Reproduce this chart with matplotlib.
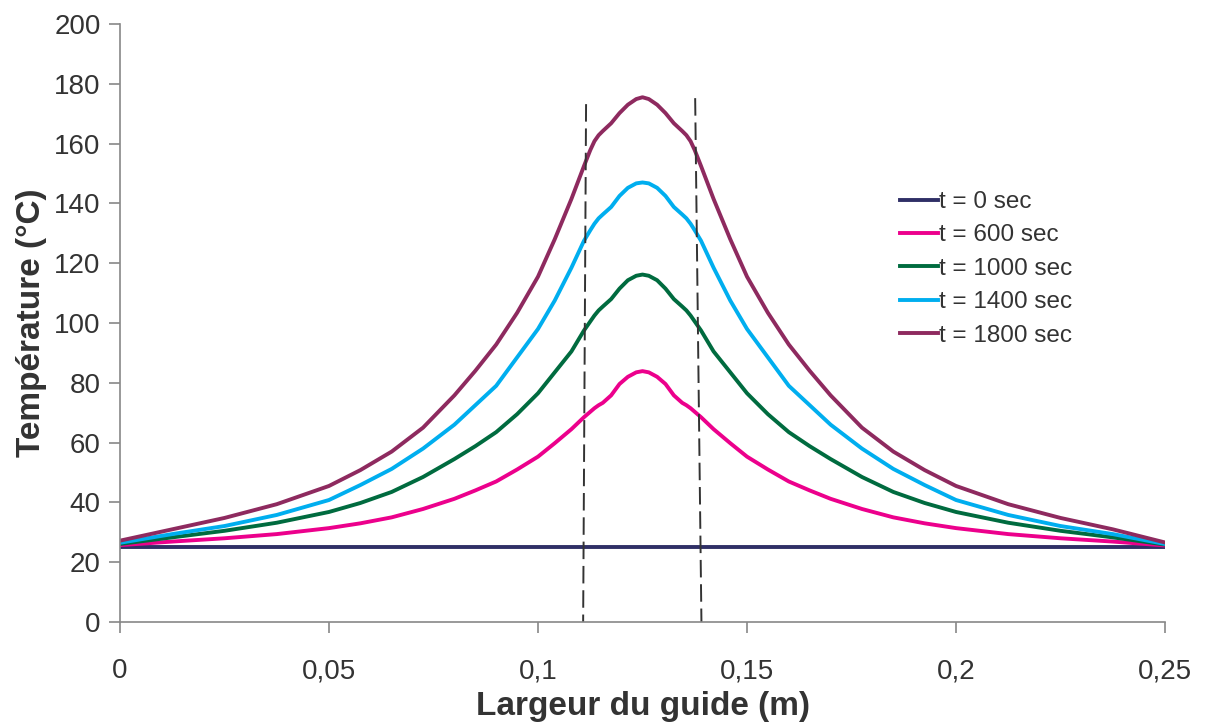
import matplotlib
matplotlib.use("Agg")
import matplotlib.pyplot as plt
from matplotlib.lines import Line2D

# x positions across the guide (m)
largeur = [0, 0.0125, 0.025, 0.0375, 0.05, 0.0575, 0.065, 0.0725, 0.08, 0.085,
           0.09, 0.095, 0.1, 0.104, 0.108, 0.111, 0.1125, 0.1135, 0.1145, 0.1155,
           0.1175, 0.1195, 0.1215, 0.1235, 0.125,
           0.1265, 0.1285, 0.1305, 0.1325, 0.1345, 0.1355, 0.1365, 0.1375, 0.139,
           0.142, 0.146, 0.15, 0.155, 0.16, 0.165, 0.17, 0.1775, 0.185, 0.1925,
           0.2, 0.2125, 0.225, 0.2375, 0.25]

t_0 = [25.2] * len(largeur)
t_600 = [25.7, 26.9, 28.0, 29.4, 31.4, 33.0, 35.0, 37.8, 41.2, 44.0,
         47.0, 51.0, 55.3, 59.8, 64.5, 68.5, 70.3, 71.5, 72.5, 73.3,
         75.8, 79.6, 82.0, 83.5, 83.9,
         83.5, 82.0, 79.6, 75.8, 73.3, 72.5, 71.5, 70.3, 68.5,
         64.5, 59.8, 55.3, 51.0, 47.0, 44.0, 41.2, 37.8, 35.0, 33.0,
         31.4, 29.4, 28.0, 26.9, 25.6]
t_1000 = [26.1, 28.3, 30.5, 33.2, 36.8, 39.8, 43.5, 48.5, 54.5, 58.8,
          63.5, 69.5, 76.5, 83.5, 90.5, 97.5, 100.5, 102.5, 104.2, 105.5,
          108.0, 111.5, 114.3, 115.8, 116.2,
          115.8, 114.3, 111.5, 108.0, 105.5, 104.2, 102.5, 100.5, 97.5,
          90.5, 83.5, 76.5, 69.5, 63.5, 58.8, 54.5, 48.5, 43.5, 39.8,
          36.8, 33.2, 30.5, 28.3, 25.9]
t_1400 = [26.5, 29.4, 32.1, 35.8, 40.8, 45.8, 51.2, 58.0, 66.0, 72.5,
          79.0, 88.5, 98.0, 107.5, 118.5, 127.5, 131.0, 133.2, 135.0, 136.3,
          138.8, 142.5, 145.2, 146.7, 147.0,
          146.7, 145.2, 142.5, 138.8, 136.3, 135.0, 133.2, 131.0, 127.5,
          118.5, 107.5, 98.0, 88.5, 79.0, 72.5, 66.0, 58.0, 51.2, 45.8,
          40.8, 35.8, 32.1, 29.4, 26.1]
t_1800 = [27.2, 31.0, 34.8, 39.4, 45.5, 50.8, 57.0, 65.0, 75.8, 84.0,
          92.8, 103.4, 115.5, 128.0, 141.5, 152.5, 157.8, 160.8, 162.8, 164.2,
          166.8, 170.2, 173.0, 174.9, 175.5,
          174.9, 173.0, 170.2, 166.8, 164.2, 162.8, 160.8, 157.8, 152.5,
          141.5, 128.0, 115.5, 103.4, 92.8, 84.0, 75.8, 65.0, 57.0, 50.8,
          45.5, 39.4, 34.8, 31.0, 26.6]

series = [
    ("t = 0 sec", t_0, "#2f2f66"),
    ("t = 600 sec", t_600, "#ec008c"),
    ("t = 1000 sec", t_1000, "#006b3f"),
    ("t = 1400 sec", t_1400, "#00aeef"),
    ("t = 1800 sec", t_1800, "#8e2a5f"),
]

# dashed guide limits (drawn slightly slanted, as in the source)
limite_gauche_x = [0.1115, 0.1108]
limite_gauche_y = [173.2, 0]
limite_droite_x = [0.1376, 0.1391]
limite_droite_y = [175.2, 0]

x_ticks = [0, 0.05, 0.1, 0.15, 0.2, 0.25]
x_labels = ["0", "0,05", "0,1", "0,15", "0,2", "0,25"]
y_ticks = list(range(0, 201, 20))

plt.rcParams["font.family"] = ["Liberation Sans", "DejaVu Sans"]
text_color = "#333333"
axis_color = "#888888"

fig = plt.figure(figsize=(12.05, 7.23), dpi=100)
ax = fig.add_axes([120 / 1205, 1 - 622 / 723, 1045 / 1205, 598 / 723])

for label, values, color in series:
    ax.plot(largeur, values, color=color, lw=2.8, label=label,
            solid_joinstyle="round", solid_capstyle="round")

for xs, ys in [(limite_gauche_x, limite_gauche_y), (limite_droite_x, limite_droite_y)]:
    ax.plot(xs, ys, color="#333333", lw=1.4, dashes=(9, 3.5))

ax.set_xlim(0, 0.25)
ax.set_ylim(0, 200)
ax.set_xticks(x_ticks)
ax.set_xticklabels(x_labels)
ax.set_yticks(y_ticks)

for side in ["top", "right"]:
    ax.spines[side].set_visible(False)
for side in ["left", "bottom"]:
    ax.spines[side].set_color(axis_color)
    ax.spines[side].set_linewidth(1.2)

ax.tick_params(axis="both", direction="out", length=8, width=1.2,
               color=axis_color, labelsize=20, labelcolor=text_color)
ax.tick_params(axis="x", pad=18)
ax.tick_params(axis="y", pad=6)

ax.set_xlabel("Largeur du guide (m)", fontsize=24, fontweight="bold",
              color=text_color, labelpad=5)
ax.set_ylabel("Température (°C)", fontsize=24, fontweight="bold",
              color=text_color, labelpad=5)

handles = [Line2D([], [], color=c, lw=2.8) for _, _, c in series]
labels = [s[0] for s in series]
leg = ax.legend(handles, labels, loc="upper left",
                bbox_to_anchor=(900 / 1205, 1 - 191 / 723),
                bbox_transform=fig.transFigure, frameon=False, fontsize=17.5,
                handlelength=1.56, handletextpad=0.06, labelspacing=0.47,
                borderpad=0, borderaxespad=0)
for txt in leg.get_texts():
    txt.set_color(text_color)

fig.savefig("out.png", dpi=100)
